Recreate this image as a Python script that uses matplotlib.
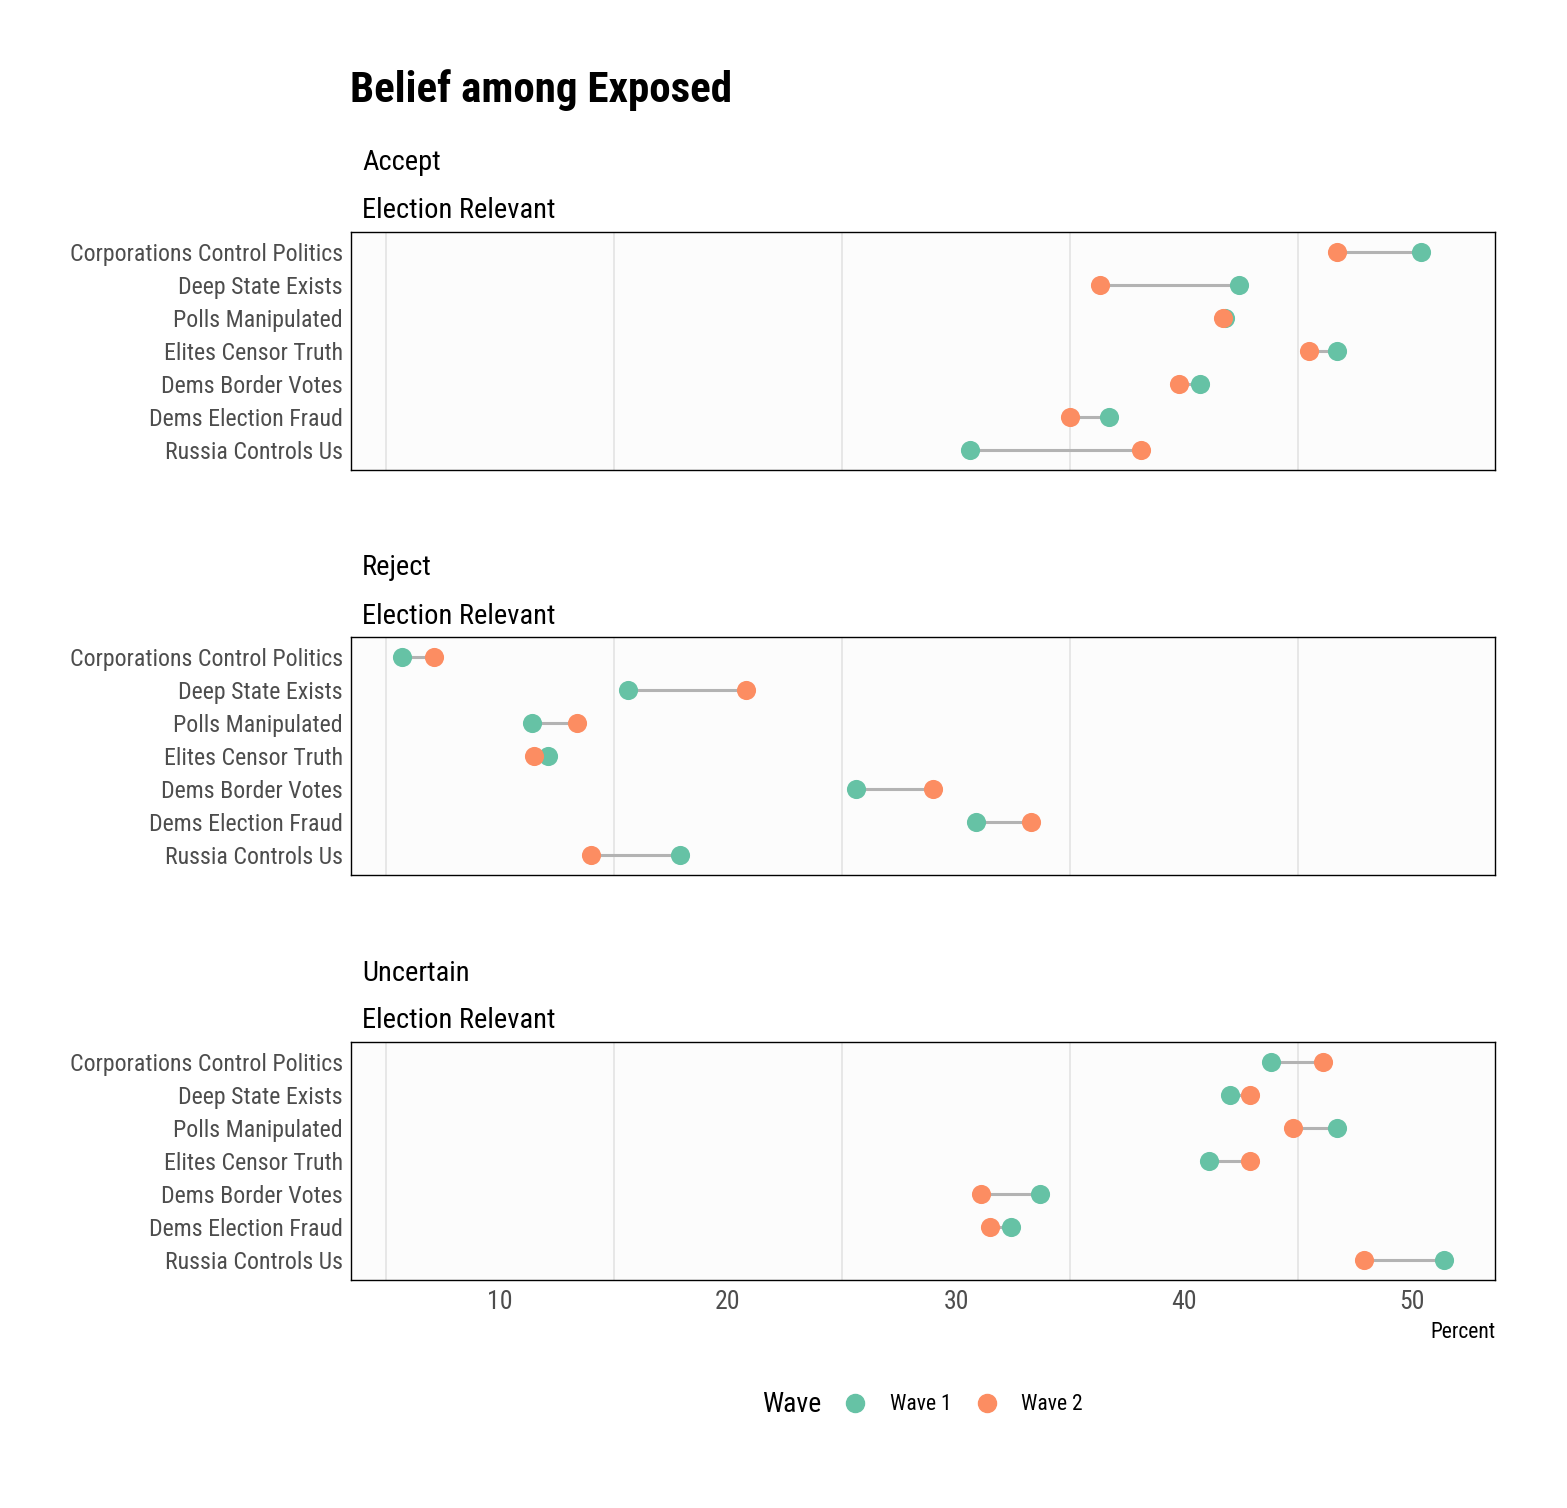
import matplotlib.pyplot as plt
from matplotlib.lines import Line2D

plt.rcParams['font.family'] = ['Roboto Condensed', 'Roboto', 'DejaVu Sans']

# categories, top to bottom
claims = ['Corporations Control Politics', 'Deep State Exists', 'Polls Manipulated',
          'Elites Censor Truth', 'Dems Border Votes', 'Dems Election Fraud',
          'Russia Controls Us']
panels = ['Accept', 'Reject', 'Uncertain']
subtitle = 'Election Relevant'

# percent values
accept_w1 = [50.4, 42.4, 41.8, 46.7, 40.7, 36.7, 30.6]
accept_w2 = [46.7, 36.3, 41.7, 45.5, 39.8, 35.0, 38.1]
reject_w1 = [5.7, 15.6, 11.4, 12.1, 25.6, 30.9, 17.9]
reject_w2 = [7.1, 20.8, 13.4, 11.5, 29.0, 33.3, 14.0]
uncert_w1 = [43.8, 42.0, 46.7, 41.1, 33.7, 32.4, 51.4]
uncert_w2 = [46.1, 42.9, 44.8, 42.9, 31.1, 31.5, 47.9]

wave1 = [accept_w1, reject_w1, uncert_w1]
wave2 = [accept_w2, reject_w2, uncert_w2]

green = '#66C2A5'
orange = '#FC8D62'

W, H = 1567, 1508
fig = plt.figure(figsize=(W / 100, H / 100), dpi=100)

tops = [232, 637, 1042]
ph = 238
left, right = 351, 1495

ypos = list(range(len(claims)))

for i, name in enumerate(panels):
    top = tops[i]
    ax = fig.add_axes([left / W, 1 - (top + ph) / H, (right - left) / W, ph / H])
    ax.set_facecolor('#FCFCFC')
    for x in [5, 15, 25, 35, 45]:
        ax.axvline(x, color='#E3E3E3', lw=1.2, zorder=0)
    for y, a, b in zip(ypos, wave1[i], wave2[i]):
        ax.plot([a, b], [y, y], color='#B3B3B3', lw=2.2, zorder=1, solid_capstyle='butt')
    ax.scatter(wave1[i], ypos, s=190, color=green, zorder=2, linewidths=0)
    ax.scatter(wave2[i], ypos, s=190, color=orange, zorder=3, linewidths=0)
    ax.set_xlim(3.47, 53.64)
    ax.set_ylim(len(claims) - 0.4, -0.6)
    ax.set_yticks(ypos)
    ax.set_yticklabels(claims, fontsize=17.2, color='#4D4D4D')
    ax.tick_params(axis='y', length=0, pad=6)
    ax.set_xticks([10, 20, 30, 40, 50])
    if i == 2:
        ax.tick_params(axis='x', length=0, labelsize=18.5, labelcolor='#4D4D4D', pad=7)
        ax.set_xlabel('Percent', fontsize=15.5, loc='right', labelpad=6)
    else:
        ax.tick_params(axis='x', length=0, labelbottom=False)
    for s in ax.spines.values():
        s.set_color('black')
        s.set_linewidth(1.0)
    fig.text(362 / W, 1 - (top - 69) / H, name, fontsize=20.5, va='center', ha='left')
    fig.text(362 / W, 1 - (top - 21) / H, subtitle, fontsize=20.5, va='center', ha='left')

fig.text(350 / W, 1 - 90 / H, 'Belief among Exposed', fontsize=31, fontweight='bold',
         va='center', ha='left')

# legend
fig.text(762 / W, 1 - 1405 / H, 'Wave', fontsize=20, va='center', ha='left')
handles = [Line2D([], [], marker='o', ls='', color=green, markersize=13, label='Wave 1'),
           Line2D([], [], marker='o', ls='', color=orange, markersize=13, label='Wave 2')]
fig.legend(handles=handles, loc='center left', bbox_to_anchor=(823 / W, 1 - 1405 / H),
           ncol=2, frameon=False, fontsize=15.5, handletextpad=1.0, columnspacing=1.04,
           handlelength=1.2)

fig.savefig('out.png', dpi=100, facecolor='white')
